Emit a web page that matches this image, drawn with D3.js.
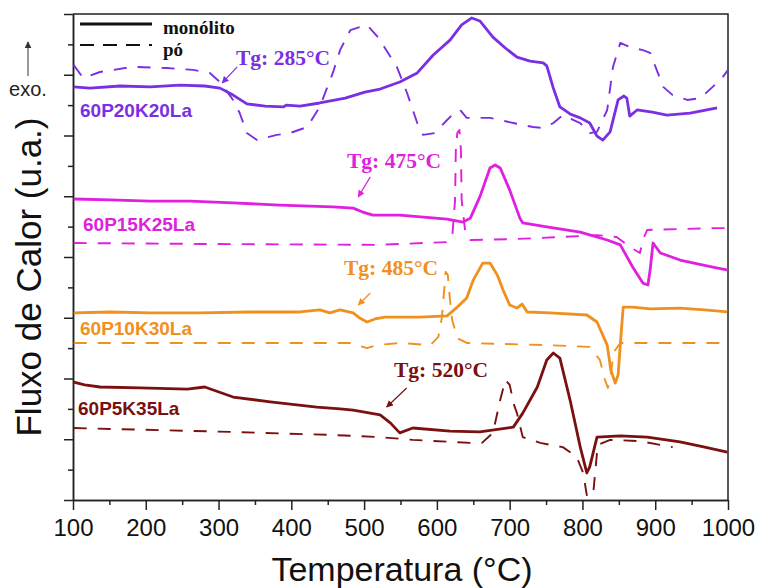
<!DOCTYPE html>
<html>
<head>
<meta charset="utf-8">
<script src="https://cdn.jsdelivr.net/npm/d3@7"></script>
<style>
body { margin: 0; background: #fff; }
svg { display: block; }
</style>
</head>
<body>
<div class="content"></div>
<script>
////////// data /////////
// x ticks (temperature, °C)
var xTicks = [100, 200, 300, 400, 500, 600, 700, 800, 900, 1000];
var xMinorTicks = [150, 250, 350, 450, 550, 650, 750, 850, 950];
// y ticks (arbitrary units, no labels)
var yTicks = [0, 2, 4, 6, 8, 10, 12, 14, 16];
var yMinorTicks = [1, 3, 5, 7, 9, 11, 13, 15];

var sampleNames = ['60P20K20La', '60P15K25La', '60P10K30La', '60P5K35La'];
var tgLabels = ['Tg: 285°C', 'Tg: 475°C', 'Tg: 485°C', 'Tg: 520°C'];
var legendNames = ['monólito', 'pó'];

// [temperature, heat flow]
var p20Mono = [[101,13.60],[123,13.56],[165,13.63],[206,13.60],[247,13.66],[281,13.63],[302,13.56],[320,13.33],[339,13.04],[364,12.97],[389,12.94],[393,13.00],[412,12.97],[439,13.07],[474,13.23],[501,13.43],[522,13.53],[549,13.76],[573,14.06],[595,14.65],[618,15.14],[634,15.64],[648,15.87],[659,15.77],[677,15.24],[694,14.88],[710,14.58],[728,14.45],[746,14.39],[751,14.29],[760,13.56],[769,12.94],[783,12.71],[797,12.58],[810,12.41],[820,11.98],[828,11.85],[838,12.12],[849,13.17],[857,13.30],[861,13.23],[865,12.64],[875,12.84],[896,12.77],[916,12.67],[948,12.74],[985,12.91]];
var p20Po = [[101,14.32],[114,13.89],[137,14.09],[182,14.26],[229,14.22],[265,14.16],[288,14.06],[302,13.76],[320,13.17],[329,12.74],[339,12.08],[353,11.85],[380,12.02],[398,12.08],[422,12.28],[439,12.94],[457,14.06],[467,14.81],[481,15.47],[504,15.64],[519,15.24],[545,14.26],[559,13.40],[573,12.41],[581,12.02],[597,12.08],[614,12.51],[625,12.77],[632,12.84],[641,12.58],[673,12.58],[705,12.41],[732,12.28],[746,12.25],[760,12.41],[773,12.67],[797,12.41],[810,12.08],[820,12.12],[834,12.84],[842,14.26],[852,15.05],[865,14.91],[883,14.81],[893,14.72],[902,14.16],[911,13.60],[924,13.33],[944,13.17],[962,13.23],[979,13.60],[993,13.93],[1000,14.16]];

var p15Mono = [[101,9.91],[151,9.88],[206,9.84],[261,9.84],[320,9.78],[384,9.71],[457,9.65],[485,9.61],[498,9.48],[512,9.38],[549,9.38],[614,9.25],[636,9.15],[646,9.28],[659,9.98],[673,10.93],[680,11.03],[687,10.93],[700,10.21],[714,9.28],[718,9.12],[751,8.99],[797,8.82],[834,8.56],[852,8.40],[869,7.67],[883,7.14],[890,7.08],[893,7.57],[897,8.46],[907,8.13],[934,7.90],[979,7.67],[1000,7.57]];
var p15Po = [[101,8.46],[275,8.43],[518,8.40],[614,8.49],[621,8.63],[625,9.88],[626,11.52],[628,12.08],[631,12.18],[633,11.52],[634,9.88],[639,8.82],[646,8.56],[705,8.59],[773,8.66],[820,8.72],[847,8.66],[865,8.33],[879,8.13],[883,8.56],[889,8.89],[934,8.92],[985,8.95],[1000,8.95]];

var p10Mono = [[101,6.16],[151,6.19],[206,6.16],[274,6.16],[343,6.19],[412,6.19],[439,6.26],[453,6.16],[467,6.26],[485,6.16],[494,5.99],[504,5.86],[515,5.96],[529,6.02],[577,6.02],[614,6.06],[628,6.35],[641,6.65],[650,7.24],[663,7.80],[673,7.80],[683,7.41],[691,6.91],[700,6.42],[710,6.32],[717,6.45],[724,6.19],[755,6.16],[806,6.09],[820,5.86],[828,5.43],[834,5.10],[839,4.28],[845,3.85],[849,4.12],[852,5.10],[856,6.35],[869,6.35],[893,6.29],[934,6.32],[968,6.26],[999,6.19]];
var p10Po = [[101,5.17],[274,5.17],[485,5.17],[494,5.07],[504,5.00],[518,5.10],[549,5.17],[591,5.10],[602,5.37],[607,6.02],[610,6.91],[612,7.51],[615,7.41],[618,6.58],[621,5.93],[628,5.33],[641,5.17],[751,5.10],[810,5.04],[824,4.61],[831,3.95],[835,3.69],[839,4.15],[843,4.87],[852,5.17],[1000,5.17]];

var p5Mono = [[101,3.88],[116,3.79],[137,3.72],[192,3.69],[257,3.65],[281,3.72],[320,3.39],[371,3.23],[435,3.06],[467,3.00],[485,2.96],[522,2.80],[536,2.54],[549,2.21],[567,2.37],[618,2.27],[659,2.24],[705,2.40],[718,2.86],[738,3.72],[751,4.61],[760,4.84],[769,4.67],[783,3.29],[797,1.74],[806,0.89],[810,1.09],[820,2.07],[852,2.11],[889,2.07],[934,1.91],[968,1.74],[999,1.58]];
var p5Po = [[101,2.37],[320,2.24],[457,2.14],[522,2.07],[567,1.98],[646,1.88],[662,1.88],[677,2.21],[687,3.29],[694,3.95],[700,3.79],[706,3.13],[710,2.86],[718,2.07],[742,1.88],[773,1.74],[792,1.42],[801,0.89],[806,0.16],[809,-0.33],[814,0.00],[821,1.81],[838,1.98],[879,1.94],[924,1.74]];

// Tg arrow tips [temperature, heat flow]
var tgPoints = [[305,13.73],[492,9.98],[492,6.42],[531,3.06]];

////////// layout /////////
var colors = ['#7b2fe3', '#e01fe0', '#f0901e', '#7a1010'];
var nameXY = [[80,117],[83,231],[80,335],[78,415]];
var tgXY = [[236,65],[347,168],[344,275],[394,377]];
var tgTail = [[15,-16],[12,-20],[12,-12],[20,-19]];

var svg = d3.select('.content').append('svg')
  .attr('width', 761)
  .attr('height', 588);

var x = d3.scaleLinear().domain([100, 1000]).range([73, 728]);
var y = d3.scaleLinear().domain([0, 16]).range([500, 14]);

var defs = svg.append('defs');
defs.append('clipPath').attr('id', 'plot')
  .append('rect')
  .attr('x', x(100)).attr('y', y(16))
  .attr('width', x(1000) - x(100)).attr('height', y(0) - y(16));

colors.concat(['#333']).forEach(function(c, i) {
  defs.append('marker')
    .attr('id', 'arr' + i)
    .attr('viewBox', '0 0 10 10')
    .attr('refX', 9).attr('refY', 5)
    .attr('markerWidth', 7).attr('markerHeight', 7)
    .attr('markerUnits', 'userSpaceOnUse')
    .attr('orient', 'auto')
    .append('path')
    .attr('d', 'M0,0 L10,5 L0,10 Z')
    .style('fill', c);
});

////////// axes /////////
var axisColor = '#222';

var xAxis = svg.append('g')
  .attr('transform', 'translate(0,' + y(0) + ')')
  .call(d3.axisBottom(x).tickValues(xTicks).tickSize(10).tickSizeOuter(0).tickPadding(9).tickFormat(d3.format('d')));
svg.append('g')
  .attr('transform', 'translate(0,' + y(0) + ')')
  .call(d3.axisBottom(x).tickValues(xMinorTicks).tickSize(5).tickSizeOuter(0).tickFormat(''));

svg.append('g')
  .attr('transform', 'translate(' + x(100) + ',0)')
  .call(d3.axisLeft(y).tickValues(yTicks).tickSize(9).tickSizeOuter(0).tickFormat(''));
svg.append('g')
  .attr('transform', 'translate(' + x(100) + ',0)')
  .call(d3.axisLeft(y).tickValues(yMinorTicks).tickSize(5).tickSizeOuter(0).tickFormat(''));

svg.selectAll('.domain, .tick line')
  .style('stroke', axisColor)
  .style('stroke-width', 1.5);

xAxis.selectAll('text')
  .style('font-family', 'Liberation Sans, Arial, sans-serif')
  .style('font-size', '24px')
  .style('fill', '#111');

// top and right frame
svg.append('path')
  .attr('d', 'M' + x(100) + ',' + y(16) + 'H' + x(1000) + 'V' + y(0))
  .style('fill', 'none')
  .style('stroke', axisColor)
  .style('stroke-width', 1.5);

svg.append('text')
  .attr('x', 402)
  .attr('y', 581)
  .attr('text-anchor', 'middle')
  .style('font-family', 'Liberation Sans, Arial, sans-serif')
  .style('font-size', '34px')
  .style('fill', '#111')
  .text('Temperatura (°C)');

svg.append('text')
  .attr('transform', 'translate(41,277) rotate(-90)')
  .attr('text-anchor', 'middle')
  .style('font-family', 'Liberation Sans, Arial, sans-serif')
  .style('font-size', '35px')
  .style('fill', '#111')
  .text('Fluxo de Calor (u.a.)');

svg.append('line')
  .attr('x1', 28).attr('y1', 76)
  .attr('x2', 28).attr('y2', 42)
  .attr('marker-end', 'url(#arr4)')
  .style('stroke', '#555')
  .style('stroke-width', 1.2);

svg.append('text')
  .attr('x', 28)
  .attr('y', 96)
  .attr('text-anchor', 'middle')
  .style('font-family', 'Liberation Sans, Arial, sans-serif')
  .style('font-size', '20px')
  .style('fill', '#222')
  .text('exo.');

////////// curves /////////
var curves = [
  {data: p20Mono, c: 0, dash: false}, {data: p20Po, c: 0, dash: true},
  {data: p15Mono, c: 1, dash: false}, {data: p15Po, c: 1, dash: true},
  {data: p10Mono, c: 2, dash: false}, {data: p10Po, c: 2, dash: true},
  {data: p5Mono, c: 3, dash: false}, {data: p5Po, c: 3, dash: true}
];

var line = d3.line()
  .x(function(d) { return x(d[0]); })
  .y(function(d) { return y(d[1]); });

var plot = svg.append('g').attr('clip-path', 'url(#plot)');

plot.selectAll('path.curve')
  .data(curves)
  .enter().append('path')
  .attr('class', 'curve')
  .attr('d', function(d) { return line(d.data); })
  .style('fill', 'none')
  .style('stroke', function(d) { return colors[d.c]; })
  .style('stroke-width', function(d) { return d.dash ? 1.9 : 2.8; })
  .style('stroke-dasharray', function(d) { return d.dash ? '13,11' : null; })
  .style('stroke-linejoin', 'round');

////////// labels /////////
svg.selectAll('text.name')
  .data(sampleNames)
  .enter().append('text')
  .attr('class', 'name')
  .attr('x', function(d, i) { return nameXY[i][0]; })
  .attr('y', function(d, i) { return nameXY[i][1]; })
  .style('font-family', 'Liberation Sans, Arial, sans-serif')
  .style('font-weight', 'bold')
  .style('font-size', '19px')
  .style('fill', function(d, i) { return colors[i]; })
  .text(function(d) { return d; });

svg.selectAll('text.tg')
  .data(tgLabels)
  .enter().append('text')
  .attr('class', 'tg')
  .attr('x', function(d, i) { return tgXY[i][0]; })
  .attr('y', function(d, i) { return tgXY[i][1]; })
  .style('font-family', 'Liberation Serif, Times New Roman, serif')
  .style('font-weight', 'bold')
  .style('font-size', '21.5px')
  .style('fill', function(d, i) { return colors[i]; })
  .text(function(d) { return d; });

svg.selectAll('line.tg')
  .data(tgPoints)
  .enter().append('line')
  .attr('class', 'tg')
  .attr('x1', function(d, i) { return x(d[0]) + tgTail[i][0]; })
  .attr('y1', function(d, i) { return y(d[1]) + tgTail[i][1]; })
  .attr('x2', function(d) { return x(d[0]); })
  .attr('y2', function(d) { return y(d[1]); })
  .attr('marker-end', function(d, i) { return 'url(#arr' + i + ')'; })
  .style('stroke', function(d, i) { return colors[i]; })
  .style('stroke-width', 1.2);

////////// legend /////////
var legend = svg.append('g');
legendNames.forEach(function(n, i) {
  legend.append('line')
    .attr('x1', 80).attr('x2', 152)
    .attr('y1', 24 + i * 21).attr('y2', 24 + i * 21)
    .style('stroke', '#111')
    .style('stroke-width', i ? 2 : 3)
    .style('stroke-dasharray', i ? '14,9' : null);
  legend.append('text')
    .attr('x', 163)
    .attr('y', 34 + i * 22)
    .style('font-family', 'Liberation Serif, Times New Roman, serif')
    .style('font-weight', 'bold')
    .style('font-size', '19px')
    .style('fill', '#111')
    .text(n);
});
</script>
</body>
</html>
